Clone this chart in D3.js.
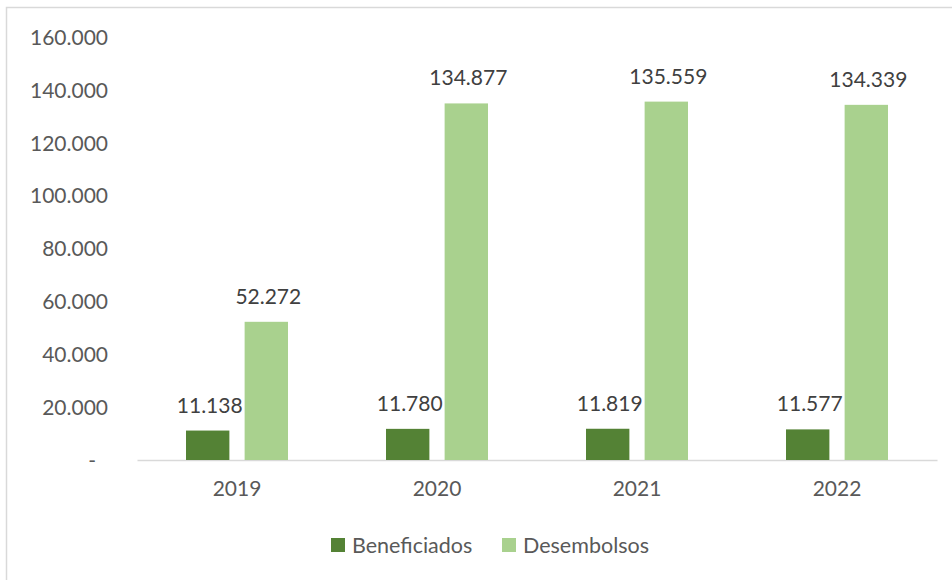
<!DOCTYPE html>
<html><head><meta charset="utf-8">
<script src="https://cdn.jsdelivr.net/npm/d3@7"></script>
<style>html,body{margin:0;padding:0;background:#fff;}svg{display:block;}</style>
</head><body>
<svg id="chart" width="952" height="580"></svg>
<script>
const categories = ["2019", "2020", "2021", "2022"];
const beneficiados = [11138, 11780, 11819, 11577];
const desembolsos = [52272, 134877, 135559, 134339];
const seriesNames = ["Beneficiados", "Desembolsos"];
const seriesColors = ["#548235", "#A9D18E"];
const yTicks = [0, 20000, 40000, 60000, 80000, 100000, 120000, 140000, 160000];

const svg = d3.select("#chart");
const font = "Lato, 'Open Sans', sans-serif";
const fs = 21;

// outer border
svg.append("rect").attr("x", 6.5).attr("y", 7.5).attr("width", 960).attr("height", 600)
  .attr("fill", "#fff").attr("stroke", "#d9d9d9").attr("stroke-width", 1.5);

const x0 = d3.scaleBand().domain(categories).range([137, 937]);
const y = d3.scaleLinear().domain([0, 160000]).range([460, 37]);
const groupW = 102;
const x1 = d3.scaleBand().domain(seriesNames).range([0, groupW]).paddingInner(0.26);

const fmt = v => v === 0 ? "-" : d3.format(",")(v).replace(/,/g, ".");

// y axis labels (no line)
const yAxis = d3.axisLeft(y).tickValues(yTicks).tickSize(0).tickFormat(fmt);
const gy = svg.append("g").attr("transform", "translate(108,0)").call(yAxis);
gy.select(".domain").remove();
gy.selectAll("text").attr("font-family", font).attr("font-size", fs).attr("fill", "#595959").attr("x", 0).attr("dy", "0.35em");
gy.selectAll(".tick").filter(d => d === 0).select("text").attr("x", -12);

// x axis
const xAxis = d3.axisBottom(x0).tickSize(0);
const gx = svg.append("g").attr("transform", "translate(0,460)").call(xAxis);
gx.select(".domain").attr("stroke", "#d9d9d9").attr("stroke-width", 1.5);
gx.selectAll("text").attr("font-family", font).attr("font-size", fs).attr("fill", "#595959").attr("dy", "1.55em");

const data = categories.map((c, i) => ({cat: c, vals: [beneficiados[i], desembolsos[i]]}));
const groups = svg.append("g").selectAll("g").data(data).join("g")
  .attr("transform", d => `translate(${x0(d.cat) + x0.bandwidth()/2 - groupW/2},0)`);

groups.selectAll("rect").data(d => d.vals.map((v, k) => ({v, k})))
  .join("rect")
  .attr("x", d => x1(seriesNames[d.k]))
  .attr("y", d => y(d.v))
  .attr("width", x1.bandwidth())
  .attr("height", d => y(0) - y(d.v))
  .attr("fill", d => seriesColors[d.k]);

groups.selectAll("text.lbl").data(d => d.vals.map((v, k) => ({v, k})))
  .join("text").attr("class", "lbl")
  .attr("x", d => x1(seriesNames[d.k]) + x1.bandwidth()/2 + 2)
  .attr("y", d => y(d.v) - 18)
  .attr("text-anchor", "middle")
  .attr("font-family", font).attr("font-size", fs).attr("fill", "#404040")
  .text(d => fmt(d.v));

// legend
const legendItems = [{name: seriesNames[0], color: seriesColors[0], x: 331}, {name: seriesNames[1], color: seriesColors[1], x: 502}];
const lg = svg.append("g").selectAll("g").data(legendItems).join("g")
  .attr("transform", d => `translate(${d.x},538)`);
lg.append("rect").attr("width", 14).attr("height", 14).attr("fill", d => d.color);
lg.append("text").attr("x", 21).attr("y", 7).attr("dy", "0.35em")
  .attr("font-family", font).attr("font-size", fs + 0.5).attr("fill", "#595959").text(d => d.name);
</script>
</body></html>
